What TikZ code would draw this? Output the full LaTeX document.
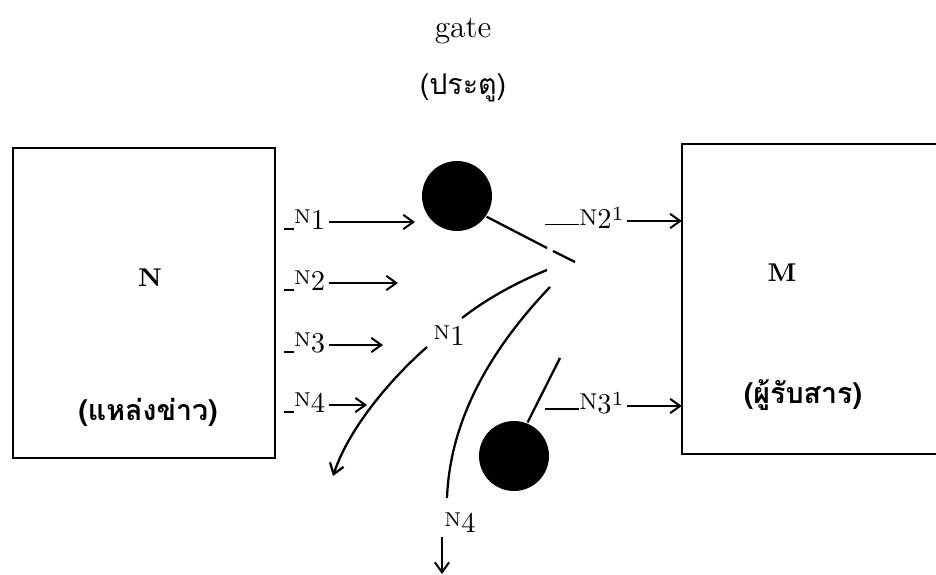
\documentclass[tikz,border=0pt]{standalone}
\usepackage{fontspec}
\newfontfamily\thaifont[Script=Thai]{Loma}
\usetikzlibrary{arrows.meta}

\tikzset{
  box/.style={draw, line width=0.9pt, inner sep=0pt},
  ball/.style={circle, fill=black, inner sep=0pt, minimum size=24.5pt},
  lbl/.style={inner sep=1pt, font=\normalsize},
  flow/.style={->, line width=0.7pt},
}
\newcommand{\inlbl}[1]{\rule{3.5pt}{0.6pt}\raisebox{.5ex}{\scriptsize N}#1}
\newcommand{\outlbl}[1]{\rule{12pt}{0.6pt}{\footnotesize N}\raisebox{-.3ex}{#1}\raisebox{.4ex}{\scriptsize 1}}

\begin{document}
\begin{tikzpicture}[x=0.35pt, y=-0.35pt, >={Straight Barb[length=3.5pt,width=5pt]}, line width=0.8pt]
    \useasboundingbox (0,0) rectangle (936,575);
    \clip (0,0) rectangle (936,575);

    % Title
    \node[font=\fontsize{11}{13}\selectfont] (gate) at (463,31) {gate};
    \node[font=\thaifont] (gateth) at (463,88) {(ประตู)};

    % Source and receiver boxes
    \node[box, minimum width=91.7pt, minimum height=108.5pt] (src) at (144,303) {};
    \node[font=\bfseries\small] (srcN) at (150,278) {N};
    \node[font=\thaifont\bfseries] (srcth) at (148,412) {(แหล่งข่าว)};

    % receiver box runs off the right edge
    \node[inner sep=0pt, minimum width=140pt, minimum height=107.8pt] (dst) at (883,299) {};
    \draw[line width=0.9pt] (dst.north -| 950,0) -- (dst.north west) -- (dst.south west) -- (dst.south -| 950,0);
    \node[font=\bfseries\small] (dstM) at (782,273) {M};
    \node[font=\thaifont\bfseries] (dstth) at (803,395) {(ผู้รับสาร)};

    % Gate keepers
    \node[ball] (gtop) at (457,196) {};
    \node[ball] (gbot) at (514,456) {};

    % Incoming news
    \node[lbl, anchor=west] (in1) at (280,220) {\inlbl{1}};
    \node[lbl, anchor=west] (in2) at (280,281) {\inlbl{2}};
    \node[lbl, anchor=west] (in3) at (280,343) {\inlbl{3}};
    \node[lbl, anchor=west] (in4) at (280,403) {\inlbl{4}};
    \coordinate (e1) at (415,222);
    \coordinate (e2) at (398,283);
    \coordinate (e3) at (383,345);
    \coordinate (e4) at (367,405);
    \draw[flow] (in1.east |- e1) -- (e1);
    \draw[flow] (in2.east |- e2) -- (e2);
    \draw[flow] (in3.east |- e3) -- (e3);
    \draw[flow] (in4.east |- e4) -- (e4);

    % Outgoing news
    \node[lbl, anchor=west] (out2) at (541,218) {\outlbl{2}};
    \node[lbl, anchor=west] (out3) at (541,403) {\outlbl{3}};
    \draw[flow] (out2.east |- 0,221) -- (dst.west |- 0,221);
    \draw[flow] (out3.east |- 0,406) -- (dst.west |- 0,406);

    % Gate bar of the upper keeper
    \coordinate (bar1) at (547,248);
    \coordinate (bar2) at (553,251);
    \coordinate (bar3) at (575,262);
    \draw (gtop.-35) -- (bar1);
    \draw (bar2) -- (bar3);

    % Rejected N1
    \node[lbl] (rej1) at (449,336) {\raisebox{.5ex}{\scriptsize N}1};
    \draw (547,270) .. controls (515,283) and (485,300) .. (462,318);
    \draw[flow, line width=0.8pt] (427,347) .. controls (395,375) and (350,425) .. (333,476);

    % Rejected N4
    \draw (550,287) .. controls (490,350) and (450,420) .. (447,498);
    \node[lbl] (rej4) at (460,523) {\raisebox{.5ex}{\scriptsize N}4};
    \coordinate (down4) at (442,574);
    \draw[flow] (rej4.south -| down4) -- (down4);

    % Bar of the lower keeper
    \coordinate (bar4) at (560,358);
    \draw (gbot.68) -- (bar4);
\end{tikzpicture}
\end{document}
